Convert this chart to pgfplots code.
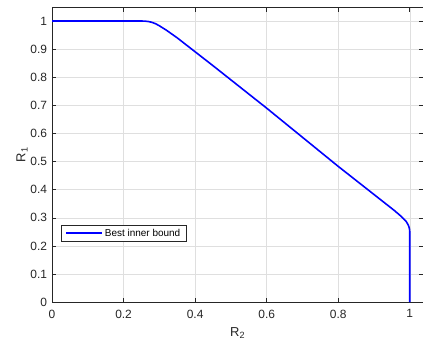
\documentclass[border=0pt]{standalone}
\usepackage{pgfplots}
\pgfplotsset{compat=1.18}
\usepackage{fontspec}
\setmainfont{Liberation Sans}
\usetikzlibrary{calc}
\definecolor{axc}{RGB}{38,38,38}
\definecolor{gridc}{RGB}{223,223,223}
\pgfplotsset{every tick label/.append style={font=\fontsize{12}{14}\selectfont}}
\begin{document}
\begin{tikzpicture}[font=\fontsize{12}{14}\selectfont]
\begin{axis}[
  scale only axis, width=371bp, height=294.5bp,
  xmin=0, xmax=1.0378, ymin=0, ymax=1.048,
  xtick={0,0.2,0.4,0.6,0.8,1},
  ytick={0,0.1,0.2,0.3,0.4,0.5,0.6,0.7,0.8,0.9,1},
  grid=major, major grid style={gridc, line width=0.5pt},
  axis line style={axc, line width=0.6pt},
  tick style={axc, line width=0.6pt}, major tick length=4bp,
  tick align=inside,
  tick label style={text=axc},
  xticklabel style={yshift=-4bp},
  yticklabel style={xshift=-1.5bp},
  /pgf/number format/assume math mode=true,
  xlabel={R\textsubscript{2}}, ylabel={R\textsubscript{1}},
  label style={font=\fontsize{13}{15}\selectfont, text=axc},
  xlabel style={yshift=-2.5bp},
  ylabel style={yshift=-4bp},
  legend style={at={(0.0243,0.207)}, anchor=south west, draw=axc, fill=white,
    font=\fontsize{10}{12}\selectfont, inner xsep=4bp, inner ysep=1.5bp},
  legend cell align=left,
  legend image code/.code={\draw[#1] (0bp,0bp) -- (36bp,0bp);},
]
\addplot[blue, line width=1.6pt] coordinates {
(0,1) (0.25,1) (0.26,0.9995) (0.27,0.998) (0.28,0.995) (0.29,0.99) (0.30,0.983)
(0.31,0.975) (0.32,0.967) (0.33,0.958) (0.34,0.949) (0.35,0.94) (0.45,0.841)
(0.6,0.69) (0.8,0.483) (0.9,0.383) (0.94,0.343) (0.955,0.328) (0.97,0.312)
(0.98,0.3) (0.99,0.287) (0.996,0.274) (0.999,0.262) (1,0.25) (1,0)
};
\addlegendentry{Best inner bound\hspace{4bp}}
\end{axis}
\pgfresetboundingbox
\path ($(current axis.south west)+(-52bp,-39bp)$) rectangle ($(current axis.north east)+(-0.3bp,7.5bp)$);
\end{tikzpicture}
\end{document}
